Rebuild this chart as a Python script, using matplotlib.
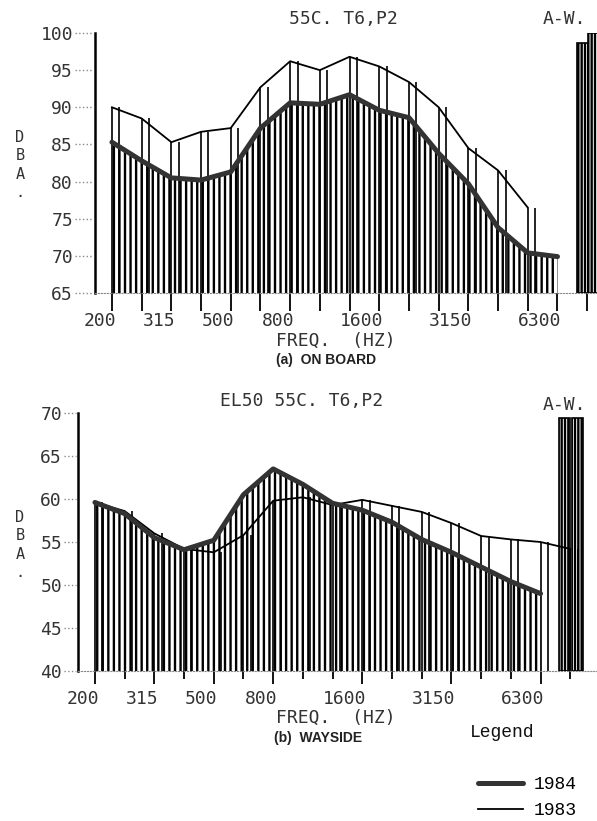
import numpy as np
import matplotlib
matplotlib.use("Agg")
import matplotlib.pyplot as plt
from matplotlib.transforms import offset_copy

# 1/3-octave bands, tick labels
bands = ["200", "250", "315", "400", "500", "630", "800", "1000", "1250",
         "1600", "2000", "2500", "3150", "4000", "5000", "6300", "8000"]
labeled = ["200", "315", "500", "800", "1600", "3150", "6300"]

# (a) on board, dBA
a_1984 = [85.3, 82.8, 80.5, 80.2, 81.3, 87.2, 90.6, 90.4, 91.7, 89.6,
          88.6, 83.8, 79.7, 73.8, 70.4, 69.9]
a_1983 = [90.0, 88.5, 85.3, 86.7, 87.2, 92.7, 96.2, 95.0, 96.8, 95.5,
          93.4, 90.0, 84.5, 81.5, 76.5]
a_aw_1984 = 98.6
a_aw_1983 = 100.0

# (b) wayside, dBA
b_1984 = [59.6, 58.3, 55.5, 54.1, 55.2, 60.5, 63.5, 61.7, 59.5, 58.7,
          57.3, 55.3, 53.8, 52.1, 50.4, 49.0]
b_1983 = [59.6, 58.6, 56.0, 54.2, 53.8, 55.8, 59.8, 60.2, 59.3, 59.9,
          59.2, 58.5, 57.2, 55.7, 55.3, 55.0, 54.2]
b_aw_1984 = 69.4
b_aw_1983 = 69.4

W, H = 597, 821
plt.rcParams["hatch.linewidth"] = 1.7
plt.rcParams["hatch.color"] = "black"
MONO = "DejaVu Sans Mono"
GREY = "#333333"

fig = plt.figure(figsize=(W / 100, H / 100), dpi=100)


def box(l, t, r, b):
    return [l / W, 1 - b / H, (r - l) / W, (b - t) / H]


def ftext(x, y, s, **kw):
    fig.text(x / W, 1 - y / H, s, **kw)


def panel(ax, y84, y83, aw84, aw83, ylo, yhi, xhi, aw_x, ytick_gap, tick_len):
    x84 = np.arange(len(y84))
    x83 = np.arange(len(y83))
    ax.fill_between(x84, ylo, y84, facecolor="none", edgecolor="black",
                    hatch="|||", linewidth=0)
    for off in (0.0, 0.25):
        ax.vlines(x83 + off, ylo, y83, color="black", lw=1.2)
    l83, = ax.plot(x83, y83, color="black", lw=1.3, label="1983")
    l84, = ax.plot(x84, y84, color="#333333", lw=3.6, label="1984",
                   solid_capstyle="round")
    ax.bar([aw_x[0]], [aw84 - ylo], bottom=ylo, width=0.37, hatch="|||||",
           facecolor="none", edgecolor="black", lw=1.2)
    ax.bar([aw_x[1]], [aw83 - ylo], bottom=ylo, width=0.37, hatch="|||||",
           facecolor="none", edgecolor="black", lw=1.2)

    ax.set_xlim(-0.57, xhi)
    ax.set_ylim(ylo, yhi)
    for s in ("top", "right"):
        ax.spines[s].set_visible(False)
    ax.spines["left"].set_linewidth(1.8)
    ax.spines["bottom"].set_linestyle(":")
    ax.spines["bottom"].set_color("#888888")

    major = [bands.index(b) for b in labeled]
    minor = [i for i in range(len(bands)) if i not in major]
    ax.set_xticks(major)
    ax.set_xticks(minor, minor=True)
    ax.tick_params(axis="x", which="major", length=tick_len[0], width=1.3,
                   labelbottom=False)
    ax.tick_params(axis="x", which="minor", length=tick_len[1], width=1.3)
    tr = offset_copy(ax.get_xaxis_transform(), fig=fig, x=4, y=-19, units="dots")
    for i in major:
        ax.text(i, 0, bands[i], transform=tr, ha="right", va="top",
                family=MONO, fontsize=13, color=GREY)

    yt = list(range(ylo, yhi + 1, 5))
    ax.set_yticks(yt)
    ax.set_yticklabels([str(v) for v in yt], family=MONO, fontsize=13, color=GREY)
    ax.tick_params(axis="y", length=0, pad=ytick_gap * 0.72)
    wpx = ax.get_position().width * W
    ax.hlines(yt, -(ytick_gap - 2) / wpx, -2 / wpx, transform=ax.get_yaxis_transform(),
              linestyles=":", colors="#888888", lw=1, clip_on=False)
    return l84, l83


ax1 = fig.add_axes(box(95, 33, 597, 293))
panel(ax1, a_1984, a_1983, a_aw_1984, a_aw_1983, 65, 100, 16.33,
      (15.84, 16.21), 22, (13, 13))

ax2 = fig.add_axes(box(78, 413, 597, 671))
l84, l83 = panel(ax2, b_1984, b_1983, b_aw_1984, b_aw_1983, 40, 70, 16.9,
                 (15.8, 16.25), 16, (9, 6))

# plotter texts
ftext(343, 19, "55C. T6,P2", family=MONO, fontsize=13, color=GREY, ha="center", va="center")
ftext(543, 19, "A-W.", family=MONO, fontsize=13, color=GREY, ha="left", va="center")
ftext(20, 165, "D\nB\nA\n.", family=MONO, fontsize=11, color=GREY, ha="center",
      va="center", linespacing=1.3)
ftext(336, 341, "FREQ.  (HZ)", family=MONO, fontsize=13, color=GREY, ha="center", va="center")
ftext(326, 360, "(a)  ON BOARD", family="Liberation Sans", fontsize=10,
      weight="bold", color="#222222", ha="center", va="center")

ftext(302, 401, "EL50 55C. T6,P2", family=MONO, fontsize=13, color=GREY, ha="center", va="center")
ftext(543, 405, "A-W.", family=MONO, fontsize=13, color=GREY, ha="left", va="center")
ftext(20, 545, "D\nB\nA\n.", family=MONO, fontsize=11, color=GREY, ha="center",
      va="center", linespacing=1.3)
ftext(336, 718, "FREQ.  (HZ)", family=MONO, fontsize=13, color=GREY, ha="center", va="center")
ftext(318, 738, "(b)  WAYSIDE", family="Liberation Sans", fontsize=10,
      weight="bold", color="#222222", ha="center", va="center")

ftext(470, 732, "Legend", family="Liberation Mono", fontsize=13, color="#111111",
      ha="left", va="center")
fig.legend(handles=[l84, l83], labels=["1984", "1983"],
           loc="upper left", bbox_to_anchor=(478 / W, 1 - 776 / H),
           frameon=False, borderpad=0, borderaxespad=0, handlelength=2.5,
           handletextpad=0.6, labelspacing=0.5,
           prop={"family": "Liberation Mono", "size": 13})

fig.savefig("out.png", dpi=100)
